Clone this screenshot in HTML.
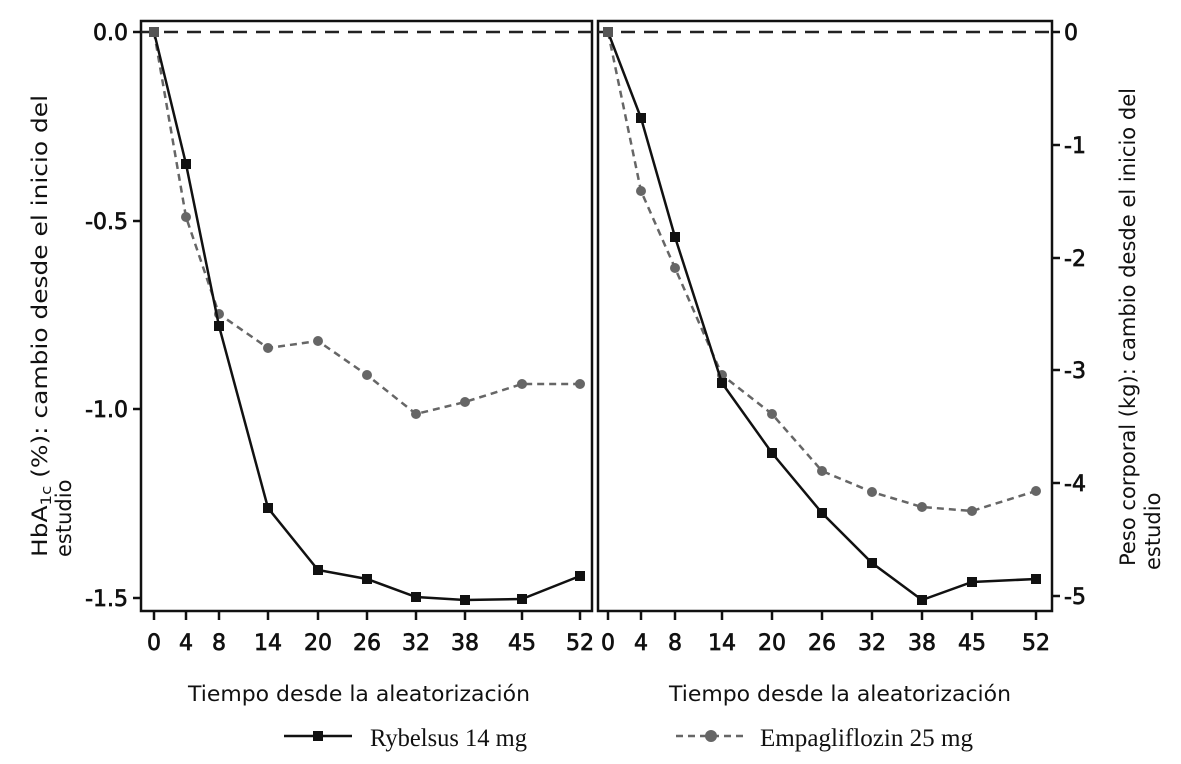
<!DOCTYPE html>
<html><head><meta charset="utf-8"><style>
html,body{margin:0;padding:0;background:#fff;}
svg{display:block;}
text{font-family:"DejaVu Sans","Liberation Sans",sans-serif;fill:#111;}
.t{font-size:22px;stroke:#111;stroke-width:0.7px;}
.ti{font-size:21px;}
.lg{font-family:"Liberation Serif",serif;font-size:25px;}
</style></head><body>
<svg width="1181" height="764" viewBox="0 0 1181 764">
<!-- frames -->
<rect x="141" y="21" width="451" height="590" fill="none" stroke="#111" stroke-width="2.5"/>
<rect x="598" y="21" width="454" height="590" fill="none" stroke="#111" stroke-width="2.5"/>
<!-- zero lines -->
<line x1="141" y1="32" x2="592" y2="32" stroke="#222" stroke-width="2.5" stroke-dasharray="14,9"/>
<line x1="598" y1="32" x2="1052" y2="32" stroke="#222" stroke-width="2.5" stroke-dasharray="14,9"/>
<g stroke="#111" stroke-width="2.5">
<line x1="133" y1="32" x2="141" y2="32"/><line x1="133" y1="221" x2="141" y2="221"/>
<line x1="133" y1="409" x2="141" y2="409"/><line x1="133" y1="598" x2="141" y2="598"/>
<line x1="1052" y1="32" x2="1060" y2="32"/><line x1="1052" y1="145" x2="1060" y2="145"/>
<line x1="1052" y1="258" x2="1060" y2="258"/><line x1="1052" y1="370" x2="1060" y2="370"/>
<line x1="1052" y1="483" x2="1060" y2="483"/><line x1="1052" y1="596" x2="1060" y2="596"/>
</g>
<g class="t" text-anchor="end">
<text x="128" y="40">0.0</text><text x="128" y="229">-0.5</text>
<text x="128" y="417">-1.0</text><text x="128" y="606">-1.5</text>
</g>
<g class="t" text-anchor="start">
<text x="1064" y="40">0</text><text x="1064" y="153">-1</text><text x="1064" y="266">-2</text>
<text x="1064" y="378">-3</text><text x="1064" y="491">-4</text><text x="1064" y="604">-5</text>
</g>
<g stroke="#111" stroke-width="2.5">
<line x1="154" y1="611" x2="154" y2="620"/><line x1="186" y1="611" x2="186" y2="620"/><line x1="219" y1="611" x2="219" y2="620"/><line x1="268" y1="611" x2="268" y2="620"/><line x1="318" y1="611" x2="318" y2="620"/><line x1="367" y1="611" x2="367" y2="620"/><line x1="416" y1="611" x2="416" y2="620"/><line x1="465" y1="611" x2="465" y2="620"/><line x1="522" y1="611" x2="522" y2="620"/><line x1="580" y1="611" x2="580" y2="620"/>
<line x1="608" y1="611" x2="608" y2="620"/><line x1="641" y1="611" x2="641" y2="620"/><line x1="675" y1="611" x2="675" y2="620"/><line x1="722" y1="611" x2="722" y2="620"/><line x1="772" y1="611" x2="772" y2="620"/><line x1="822" y1="611" x2="822" y2="620"/><line x1="872" y1="611" x2="872" y2="620"/><line x1="922" y1="611" x2="922" y2="620"/><line x1="972" y1="611" x2="972" y2="620"/><line x1="1036" y1="611" x2="1036" y2="620"/>
</g>
<g class="t" text-anchor="middle">
<text x="154" y="650">0</text><text x="186" y="650">4</text><text x="219" y="650">8</text><text x="268" y="650">14</text><text x="318" y="650">20</text><text x="367" y="650">26</text><text x="416" y="650">32</text><text x="465" y="650">38</text><text x="522" y="650">45</text><text x="580" y="650">52</text>
<text x="608" y="650">0</text><text x="641" y="650">4</text><text x="675" y="650">8</text><text x="722" y="650">14</text><text x="772" y="650">20</text><text x="822" y="650">26</text><text x="872" y="650">32</text><text x="922" y="650">38</text><text x="972" y="650">45</text><text x="1036" y="650">52</text>
</g>
<text class="ti" x="188" y="701" textLength="342" lengthAdjust="spacingAndGlyphs">Tiempo desde la aleatorización</text>
<text class="ti" x="669" y="701" textLength="342" lengthAdjust="spacingAndGlyphs">Tiempo desde la aleatorización</text>
<text class="ti" transform="translate(47,557) rotate(-90)" textLength="462" lengthAdjust="spacingAndGlyphs">HbA<tspan font-size="14" dy="4">1c</tspan><tspan dy="-4"> (%): cambio desde el inicio del</tspan></text>
<text class="ti" transform="translate(71,557) rotate(-90)">estudio</text>
<text class="ti" transform="translate(1135,566) rotate(-90)" textLength="478" lengthAdjust="spacingAndGlyphs">Peso corporal (kg): cambio desde el inicio del</text>
<text class="ti" transform="translate(1160,570) rotate(-90)">estudio</text>
<g stroke="#666" stroke-width="2.5" fill="none" stroke-dasharray="7,5">
<polyline points="154,32 186,217 219,314 268,348 318,341 367,375 416,414 465,402 522,384 580,384"/>
<polyline points="608,32 641,191 675,268 722,375 772,414 822,471 872,492 922,507 972,511 1036,491"/>
</g>
<g fill="#666">
<circle cx="154" cy="32" r="5"/><circle cx="186" cy="217" r="5"/><circle cx="219" cy="314" r="5"/><circle cx="268" cy="348" r="5"/><circle cx="318" cy="341" r="5"/><circle cx="367" cy="375" r="5"/><circle cx="416" cy="414" r="5"/><circle cx="465" cy="402" r="5"/><circle cx="522" cy="384" r="5"/><circle cx="580" cy="384" r="5"/>
<circle cx="608" cy="32" r="5"/><circle cx="641" cy="191" r="5"/><circle cx="675" cy="268" r="5"/><circle cx="722" cy="375" r="5"/><circle cx="772" cy="414" r="5"/><circle cx="822" cy="471" r="5"/><circle cx="872" cy="492" r="5"/><circle cx="922" cy="507" r="5"/><circle cx="972" cy="511" r="5"/><circle cx="1036" cy="491" r="5"/>
</g>
<g stroke="#111" stroke-width="2.5" fill="none">
<polyline points="154,32 186,164 219,326 268,508 318,570 367,579 416,597 465,600 522,599 580,576"/>
<polyline points="608,32 641,118 675,237 722,383 772,453 822,513 872,563 922,600 972,582 1036,579"/>
</g>
<g fill="#111">
<rect x="181" y="159" width="10" height="10"/><rect x="214" y="321" width="10" height="10"/><rect x="263" y="503" width="10" height="10"/><rect x="313" y="565" width="10" height="10"/><rect x="362" y="574" width="10" height="10"/><rect x="411" y="592" width="10" height="10"/><rect x="460" y="595" width="10" height="10"/><rect x="517" y="594" width="10" height="10"/><rect x="575" y="571" width="10" height="10"/>
<rect x="636" y="113" width="10" height="10"/><rect x="670" y="232" width="10" height="10"/><rect x="717" y="378" width="10" height="10"/><rect x="767" y="448" width="10" height="10"/><rect x="817" y="508" width="10" height="10"/><rect x="867" y="558" width="10" height="10"/><rect x="917" y="595" width="10" height="10"/><rect x="967" y="577" width="10" height="10"/><rect x="1031" y="574" width="10" height="10"/>
</g>
<rect x="149" y="27" width="10" height="10" fill="#555"/>
<rect x="603" y="27" width="10" height="10" fill="#555"/>
<line x1="284" y1="736" x2="352" y2="736" stroke="#111" stroke-width="2.5"/>
<rect x="313" y="731" width="10" height="10" fill="#111"/>
<text class="lg" x="370" y="746" textLength="157" lengthAdjust="spacingAndGlyphs">Rybelsus 14 mg</text>
<line x1="676" y1="736" x2="744" y2="736" stroke="#666" stroke-width="2.5" stroke-dasharray="7,5"/>
<circle cx="711" cy="736" r="6" fill="#666"/>
<text class="lg" x="760" y="746" textLength="213" lengthAdjust="spacingAndGlyphs">Empagliflozin 25 mg</text>
</svg>
</body></html>
